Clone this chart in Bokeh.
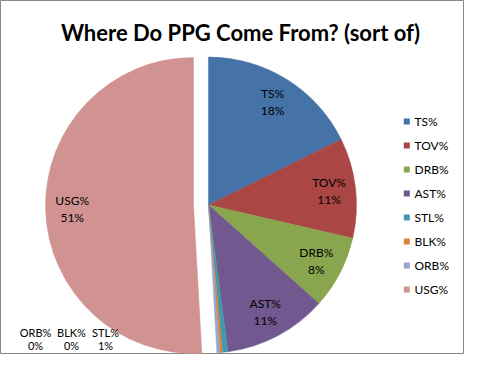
import math
from bokeh.plotting import figure
from bokeh.models import Range1d, ColumnDataSource
from bokeh.embed import file_html
from bokeh.resources import INLINE
from bokeh.core.properties import value

# ---- data ----
categories = ["TS%", "TOV%", "DRB%", "AST%", "STL%", "BLK%", "ORB%", "USG%"]
values = [17.7, 10.9, 8.0, 11.3, 0.6, 0.3, 0.3, 50.9]
colors = ["#4572A7", "#AA4643", "#89A54E", "#71588F", "#4198AF", "#DB843D", "#93A9CF", "#D19392"]
exploded = [False, False, False, False, False, False, False, True]
title_text = "Where Do PPG Come From? (sort of)"

# ---- layout (reference pixel space, y measured from top) ----
H = 370
CX, CY = 208.0, 204.5
R = 148.0
EXPLODE = 15.0
LABEL_R = 0.82
FONT = value("Lato")
outside_label_x = {"STL%": 105, "BLK%": 71, "ORB%": 35}
OUTSIDE_TOP, OUTSIDE_GAP = 332, 13
LEG_X, LEG_Y0, LEG_DY = 406.3, 121, 24


def up(y):
    return H - y


p = figure(width=464, height=354, x_range=Range1d(0, 464), y_range=Range1d(16, 370),
           output_backend="svg", toolbar_location=None, min_border=0)
p.axis.visible = False
p.grid.visible = False
p.outline_line_color = "#868686"
p.outline_line_width = 1
p.background_fill_color = "white"
p.border_fill_color = "white"

total = float(sum(values))
cum = 0.0
xs, ys, starts, ends, mids = [], [], [], [], []
for v, ex in zip(values, exploded):
    c0 = cum / total
    c1 = (cum + v) / total
    cum += v
    phi = math.pi * (c0 + c1)  # clockwise from top, mid of slice
    d = EXPLODE if ex else 0.0
    xs.append(CX + d * math.sin(phi))
    ys.append(up(CY) + d * math.cos(phi))
    starts.append(math.pi / 2 - 2 * math.pi * c1)
    ends.append(math.pi / 2 - 2 * math.pi * c0)
    mids.append(phi)

src = ColumnDataSource(dict(x=xs, y=ys, start=starts, end=ends, color=colors, cat=categories))
p.wedge(x="x", y="y", radius=R, start_angle="start", end_angle="end",
        fill_color="color", line_color="color", line_width=0.5, source=src)

# ---- data labels ----
pct = [f"{round(100 * v / total):.0f}%" for v in values]
lx, ly, ltxt = [], [], []
ox, oy, otxt = [], [], []
for i, cat in enumerate(categories):
    if cat in outside_label_x:
        x0 = outside_label_x[cat]
        ox += [x0, x0]
        oy += [up(OUTSIDE_TOP), up(OUTSIDE_TOP + OUTSIDE_GAP)]
        otxt += [cat, pct[i]]
    else:
        x0 = xs[i] + LABEL_R * R * math.sin(mids[i])
        y0 = ys[i] + LABEL_R * R * math.cos(mids[i])
        lx += [x0, x0]
        ly += [y0 + 8.3, y0 - 8.3]
        ltxt += [cat, pct[i]]
p.text(x=lx, y=ly, text=ltxt, text_font=FONT, text_font_size="12px",
       text_align="center", text_baseline="middle", text_color="black")
p.text(x=ox, y=oy, text=otxt, text_font=FONT, text_font_size="11px",
       text_align="center", text_baseline="middle", text_color="black")

# ---- legend ----
leg_y = [up(LEG_Y0 + LEG_DY * i) for i in range(len(categories))]
p.scatter(x=[LEG_X] * len(categories), y=leg_y, marker="square", size=6,
          fill_color=colors, line_color=None)
p.text(x=[LEG_X + 7.7] * len(categories), y=leg_y, text=categories, text_font=FONT,
       text_font_size="12px", text_align="left", text_baseline="middle", text_color="black")

# ---- title ----
p.text(x=[240], y=[up(32)], text=[title_text], text_font=FONT, text_font_size="22px",
       text_font_style="bold", text_align="center", text_baseline="alphabetic", text_color="black")

open("out.html", "w").write(file_html(p, INLINE))
